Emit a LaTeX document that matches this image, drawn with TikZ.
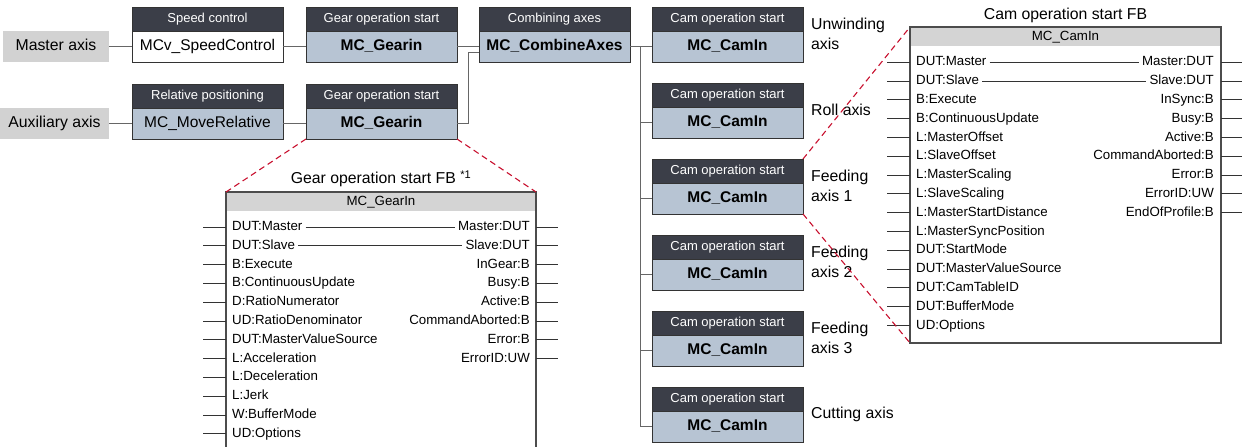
\documentclass[tikz,border=0pt]{standalone}
\usepackage{fontspec}
\setmainfont{Liberation Sans}
\usepackage{tikz}
\usetikzlibrary{positioning}
\usepackage{xcolor}
\definecolor{hdrgray}{HTML}{3B3E48}
\definecolor{bodyblue}{HTML}{B7C4D3}
\definecolor{axisgray}{HTML}{D2D2D2}
\definecolor{fbgray}{HTML}{D4D4D4}
\definecolor{zoomred}{HTML}{C8102E}

\begin{document}
\begin{tikzpicture}[x=1pt, y=-1pt,
    node distance=21pt and 23pt,
    hdr/.style={draw=black!80, line width=1pt, fill=hdrgray, text=white, minimum width=151pt, minimum height=24pt, inner sep=0pt, outer sep=0pt, text height=9pt, text depth=2.5pt, font=\fontsize{13}{15}\selectfont},
    body/.style={draw=black!80, line width=1pt, fill=bodyblue, minimum width=151pt, minimum height=31pt, inner sep=0pt, outer sep=0pt, text height=11pt, text depth=3pt, font=\fontsize{15.5}{18}\selectfont},
    bodyb/.style={body, font=\fontsize{15.5}{18}\selectfont\bfseries},
    axisbox/.style={fill=axisgray, minimum height=31pt, inner sep=0pt, outer sep=0pt, text height=11pt, text depth=3pt, font=\fontsize{15.8}{18}\selectfont},
    axlbl/.style={align=left, inner sep=0pt, font=\fontsize{15.8}{20}\selectfont},
    link/.style={draw=black!60, line width=1pt},
    fb/.style={draw=black!70, line width=1.3pt, inner sep=0pt, outer sep=0pt},
    fbhdr/.style={fill=fbgray, minimum width=309.5pt, minimum height=18.5pt, inner sep=0pt, text height=9.5pt, text depth=2.5pt, font=\fontsize{13.3}{15}\selectfont},
    fbtitle/.style={inner sep=0pt, font=\fontsize{15.8}{18}\selectfont},
    pin/.style={inner xsep=3pt, inner ysep=0pt, text height=9.5pt, text depth=2.5pt, font=\fontsize{13.3}{15}\selectfont},
    stub/.style={draw=black!80, line width=0.9pt},
    zoom/.style={draw=zoomred, dash pattern=on 6pt off 4pt, line width=1.1pt}
]
\useasboundingbox (0,0) rectangle (1242,447);
\clip (0,0) rectangle (1242,447);

\node[hdr] (speedh) at (207.5,19) {Speed control};
\node[body, fill=white, below=0pt of speedh] (speed) {MCv\_SpeedControl};
\node[hdr, right=of speedh] (gear1h) {Gear operation start};
\node[bodyb, below=0pt of gear1h] (gear1) {MC\_Gearin};
\node[hdr, right=22pt of gear1h] (combineh) {Combining axes};
\node[bodyb, below=0pt of combineh] (combine) {MC\_CombineAxes};

\node[hdr, below=22pt of speed] (relh) {Relative positioning};
\node[body, below=0pt of relh] (rel) {MC\_MoveRelative};
\node[hdr, below=22pt of gear1] (gear2h) {Gear operation start};
\node[bodyb, below=0pt of gear2h] (gear2) {MC\_Gearin};

\node[axisbox, minimum width=106pt, left=of speed] (master) {Master axis};
\node[axisbox, minimum width=109pt, left=of rel] (aux) {Auxiliary axis};

\node[hdr, right=22pt of combineh] (camh1) {Cam operation start};
\node[bodyb, below=0pt of camh1] (cam1) {MC\_CamIn};
\node[hdr, below=of cam1] (camh2) {Cam operation start};
\node[bodyb, below=0pt of camh2] (cam2) {MC\_CamIn};
\node[hdr, below=of cam2] (camh3) {Cam operation start};
\node[bodyb, below=0pt of camh3] (cam3) {MC\_CamIn};
\node[hdr, below=of cam3] (camh4) {Cam operation start};
\node[bodyb, below=0pt of camh4] (cam4) {MC\_CamIn};
\node[hdr, below=of cam4] (camh5) {Cam operation start};
\node[bodyb, below=0pt of camh5] (cam5) {MC\_CamIn};
\node[hdr, below=of cam5] (camh6) {Cam operation start};
\node[bodyb, below=0pt of camh6] (cam6) {MC\_CamIn};

\node[axlbl, right=8pt of camh1.south east, yshift=-3pt] (unwind) {Unwinding\\axis};
\node[axlbl, right=8pt of camh2.south east, yshift=-3pt] (roll) {Roll axis};
\node[axlbl, right=8pt of camh3.south east, yshift=-3pt] (feed1) {Feeding\\axis 1};
\node[axlbl, right=8pt of camh4.south east, yshift=-3pt] (feed2) {Feeding\\axis 2};
\node[axlbl, right=8pt of camh5.south east, yshift=-3pt] (feed3) {Feeding\\axis 3};
\node[axlbl, right=8pt of camh6.south east, yshift=-3pt] (cutting) {Cutting axis};

\draw[link] (master) -- (speed);
\draw[link] (speed) -- (gear1);
\draw[link] (gear1) -- (combine);
\draw[link] (aux) -- (rel);
\draw[link] (rel) -- (gear2);
\draw[link] (gear2.east) -- ++(11pt,0) |- ([yshift=-6pt]combine.west);
\coordinate (bus) at ([xshift=10pt]combine.east);
\draw[link] (combine) -- (cam1);
\foreach \k in {2,...,6}
  \draw[link] (bus) |- (cam\k.west);

\node[fb, minimum width=311pt, minimum height=316pt] (camfb) at (1065.5,185) {};
\node[fbhdr, below=0.65pt of camfb.north] (camfbh) {MC\_CamIn};
\node[fbtitle, above=4pt of camfb.north] (camfbt) {Cam operation start FB};
\foreach \p [count=\i] in {DUT:Master, DUT:Slave, B:Execute, B:ContinuousUpdate, L:MasterOffset, L:SlaveOffset, L:MasterScaling, L:SlaveScaling, L:MasterStartDistance, L:MasterSyncPosition, DUT:StartMode, DUT:MasterValueSource, DUT:CamTableID, DUT:BufferMode, UD:Options}{
  \node[pin, anchor=west] (cin\i) at ([xshift=3pt, yshift={-35.3-(\i-1)*18.8}]camfb.north west) {\p};
  \draw[stub] (cin\i.west -| camfb.west) -- ++(-23pt,0);
}
\foreach \p [count=\i] in {Master:DUT, Slave:DUT, InSync:B, Busy:B, Active:B, CommandAborted:B, Error:B, ErrorID:UW, EndOfProfile:B}{
  \node[pin, anchor=east] (cout\i) at ([xshift=-4pt, yshift={-35.3-(\i-1)*18.8}]camfb.north east) {\p};
  \draw[stub] (cout\i.east -| camfb.east) -- ++(21pt,0);
}
\draw[stub] (cin1) -- (cout1);
\draw[stub] (cin2) -- (cout2);

\node[fb, minimum width=310pt, minimum height=268pt] (gearfb) at (381,326) {};
\node[fbhdr, minimum width=308.5pt, below=0.65pt of gearfb.north] (gearfbh) {MC\_GearIn};
\node[fbtitle, above=5pt of gearfb.north] (gearfbt) {Gear operation start FB \textsuperscript{*1}};
\foreach \p [count=\i] in {DUT:Master, DUT:Slave, B:Execute, B:ContinuousUpdate, D:RatioNumerator, UD:RatioDenominator, DUT:MasterValueSource, L:Acceleration, L:Deceleration, L:Jerk, W:BufferMode, UD:Options}{
  \node[pin, anchor=west] (gin\i) at ([xshift=3pt, yshift={-35-(\i-1)*18.8}]gearfb.north west) {\p};
  \draw[stub] (gin\i.west -| gearfb.west) -- ++(-23pt,0);
}
\foreach \p [count=\i] in {Master:DUT, Slave:DUT, InGear:B, Busy:B, Active:B, CommandAborted:B, Error:B, ErrorID:UW}{
  \node[pin, anchor=east] (gout\i) at ([xshift=-3pt, yshift={-35-(\i-1)*18.8}]gearfb.north east) {\p};
  \draw[stub] (gout\i.east -| gearfb.east) -- ++(22pt,0);
}
\draw[stub] (gin1) -- (gout1);
\draw[stub] (gin2) -- (gout2);

\draw[zoom] (camh3.north east) -- (camfb.north west);
\draw[zoom] (cam3.south east) -- (camfb.south west);
\draw[zoom] (gear2.south west) -- (gearfb.north west);
\draw[zoom] (gear2.south east) -- (gearfb.north east);
\end{tikzpicture}
\end{document}
